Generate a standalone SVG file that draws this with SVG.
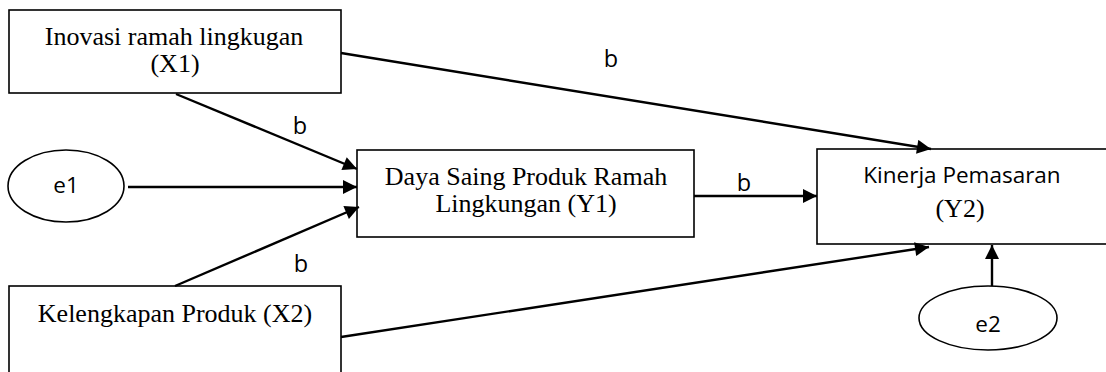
<svg xmlns="http://www.w3.org/2000/svg" width="1106" height="372" viewBox="0 0 1106 372">
<style>
.box{fill:#fff;stroke:#000;stroke-width:1.6}
.ser{font-family:"Liberation Serif","Times New Roman",serif;font-size:26px;fill:#000;text-anchor:middle}
.san{font-family:"Open Sans","Liberation Sans",sans-serif;font-size:22.5px;fill:#000;text-anchor:middle}
.lbl{font-family:"Open Sans","Liberation Sans",sans-serif;font-size:23.5px;fill:#000;text-anchor:middle}
.conn line{stroke:#000;stroke-width:2.4;marker-end:url(#ah)}
</style>
<defs>
<marker id="ah" viewBox="0 0 10 10" refX="10" refY="5" markerUnits="userSpaceOnUse" markerWidth="17" markerHeight="14" orient="auto">
<path d="M0,0 L10,5 L0,10 z" fill="#000"/>
</marker>
</defs>
<rect width="1106" height="372" fill="#fff"/>
<g id="x1">
<rect class="box" x="9" y="10" width="332" height="83"/>
<text class="ser" x="174" y="45">Inovasi ramah lingkugan</text>
<text class="ser" x="175" y="72">(X1)</text>
</g>
<g id="x2">
<rect class="box" x="9" y="286" width="332" height="100"/>
<text class="ser" x="175" y="322">Kelengkapan Produk (X2)</text>
</g>
<g id="e1">
<ellipse class="box" cx="66" cy="186" rx="58" ry="36"/>
<text class="san" x="66" y="193">e1</text>
</g>
<g id="y1">
<rect class="box" x="357" y="150" width="337" height="87"/>
<text class="ser" x="526" y="185">Daya Saing Produk Ramah</text>
<text class="ser" x="526" y="212">Lingkungan (Y1)</text>
</g>
<g id="y2">
<rect class="box" x="817" y="149" width="300" height="95"/>
<text class="san" x="962" y="183">Kinerja Pemasaran</text>
<text class="ser" x="960" y="217">(Y2)</text>
</g>
<g id="e2">
<ellipse class="box" cx="988" cy="318" rx="69" ry="32"/>
<text class="san" x="988" y="332">e2</text>
</g>
<g class="conn" id="connectors">
<line x1="176" y1="94" x2="357" y2="169"/>
<line x1="128" y1="187" x2="357" y2="187"/>
<line x1="175" y1="286" x2="359" y2="207"/>
<line x1="694" y1="196" x2="817" y2="196"/>
<line x1="341" y1="53" x2="931" y2="149"/>
<line x1="341" y1="337" x2="929" y2="247"/>
<line x1="992" y1="286" x2="992" y2="245"/>
</g>
<g id="labels">
<text class="lbl" x="611" y="67">b</text>
<text class="lbl" x="300" y="134">b</text>
<text class="lbl" x="744" y="191">b</text>
<text class="lbl" x="301" y="272">b</text>
</g>
</svg>
